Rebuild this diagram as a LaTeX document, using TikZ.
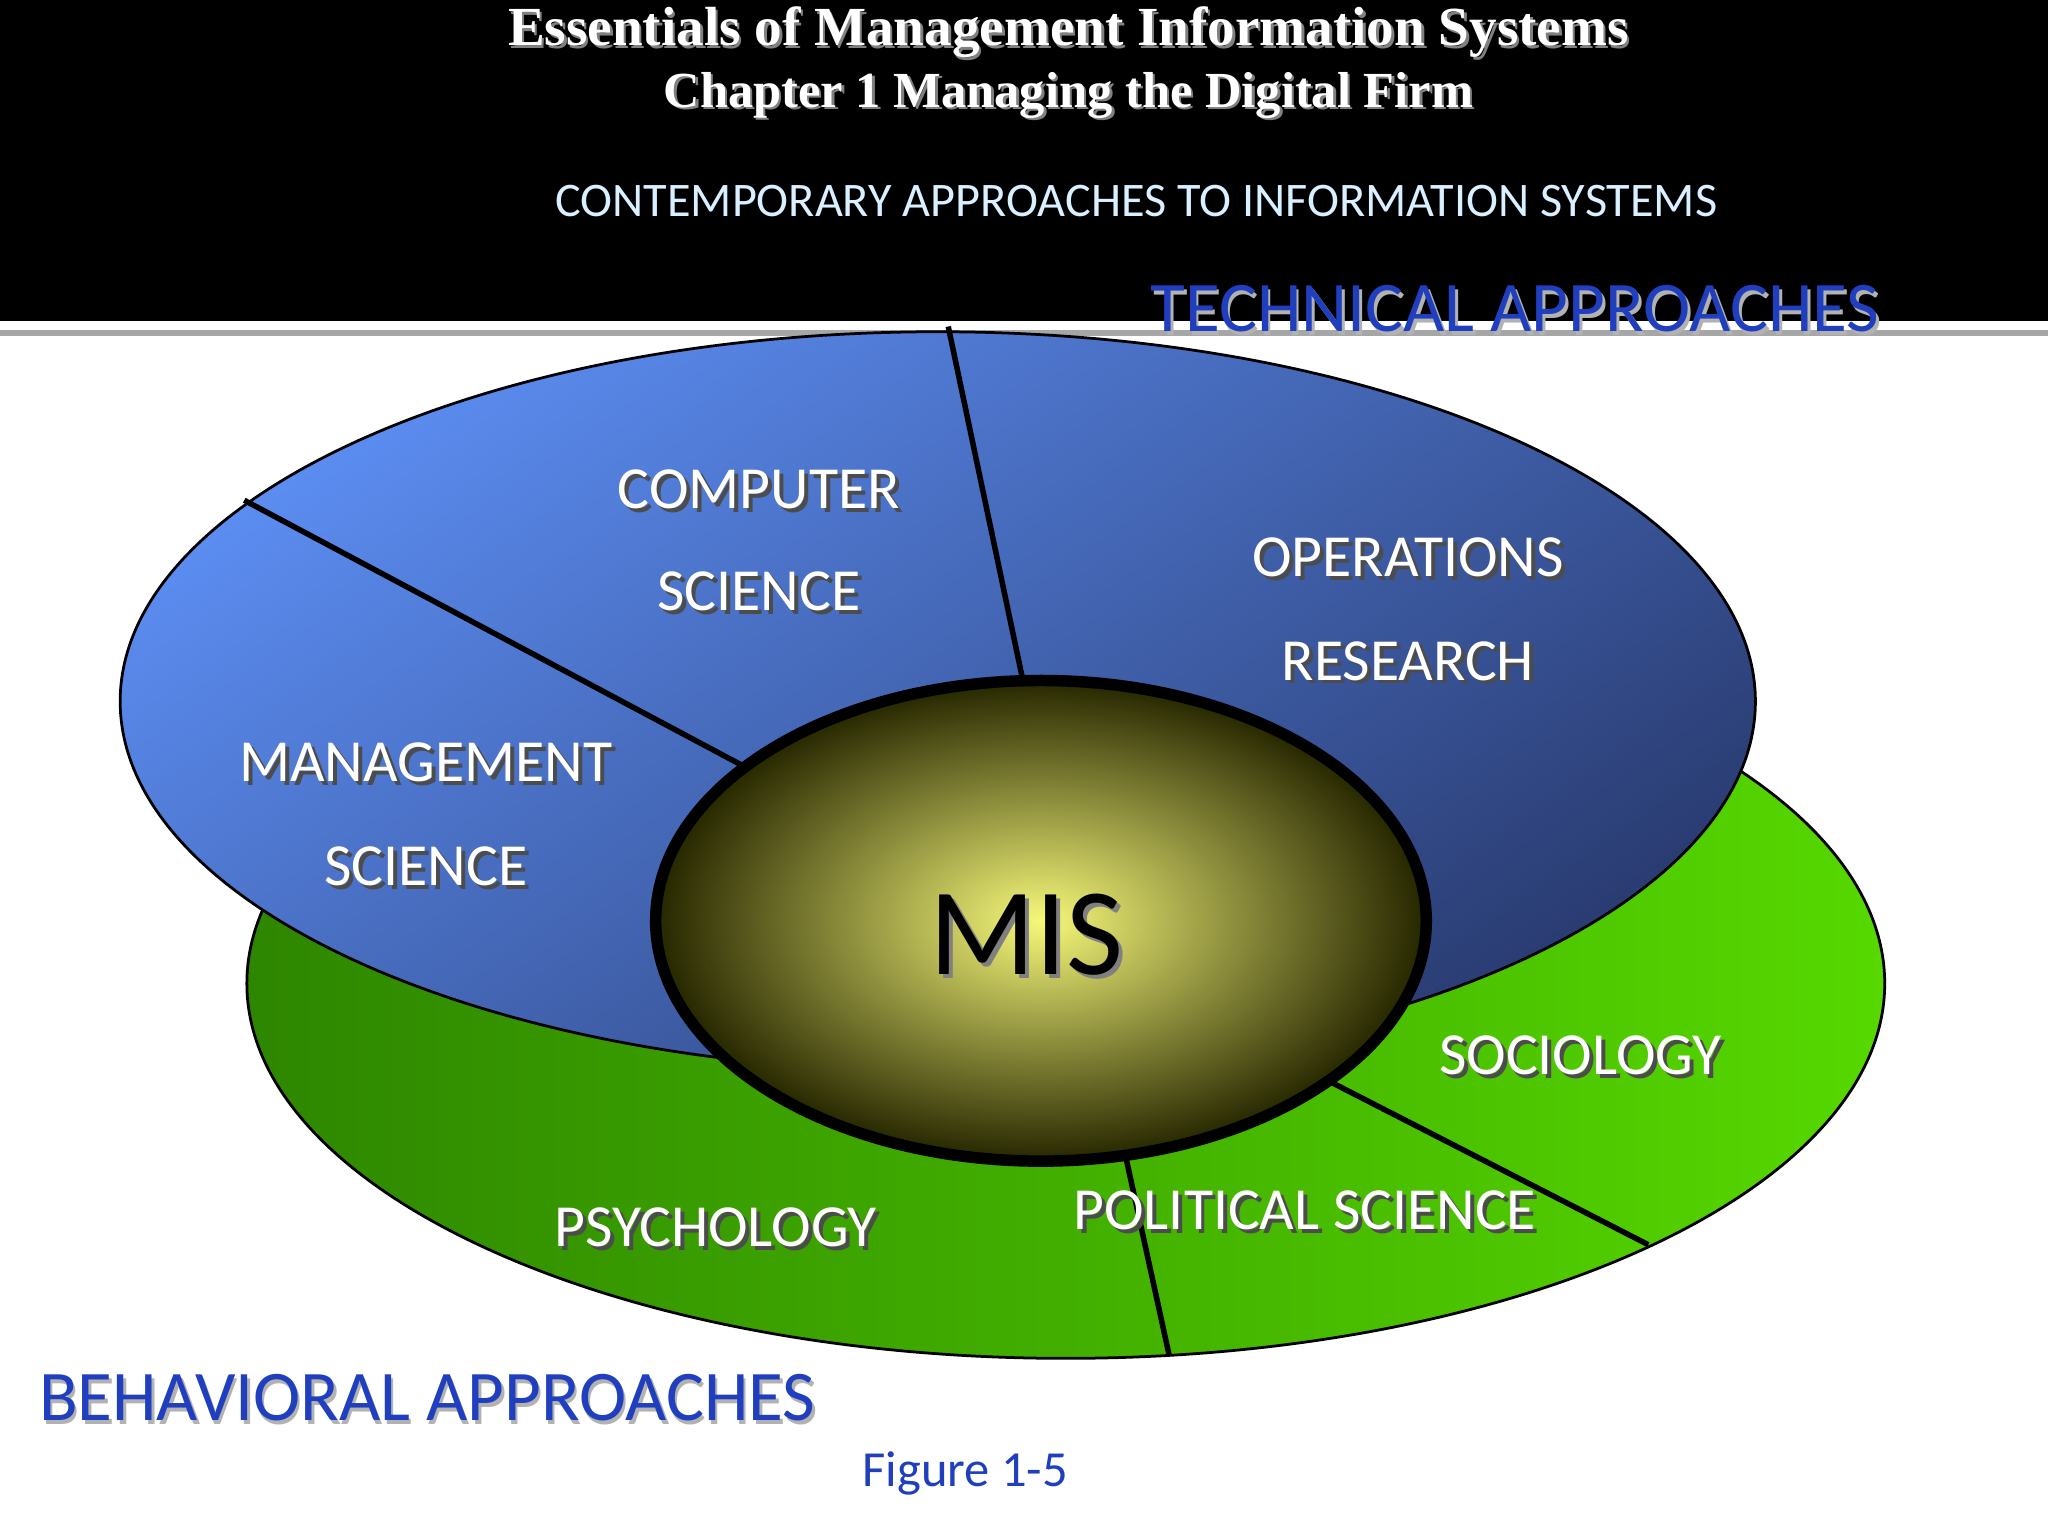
\documentclass[tikz,border=0pt]{standalone}
\usepackage{fontspec}
\setmainfont{Liberation Serif}
\newfontfamily\carl{Carlito}
\usetikzlibrary{calc}
\definecolor{bluelt}{HTML}{5B8CF0}
\definecolor{bluedk}{HTML}{2A3C72}
\definecolor{grndk}{HTML}{2E8600}
\definecolor{grnlt}{HTML}{56D800}
\definecolor{misc}{HTML}{F6F87A}
\definecolor{cyantext}{HTML}{D8F0FF}
\definecolor{apblue}{HTML}{1F3FBF}
\tikzset{
 lbl/.style={font=\carl\fontsize{13}{14}\selectfont, text=white, align=center},
 sh/.style={text=black!70},
 divider/.style={line width=1.2pt, black},
}
\newcommand{\shlabel}[3]{%
 \node[lbl,sh] at ($(#1)+(3,3)$) {#3};
 \node[lbl] (#2) at (#1) {#3};}
\begin{document}
\begin{tikzpicture}[x=0.01cm,y=-0.01cm]
\useasboundingbox (0,0) rectangle (1568,1176);
\fill[white] (0,0) rectangle (1568,1176);
% header
\fill[black] (0,0) rectangle (1568,246);
\draw[gray!70, line width=1.2pt] (0,255) -- (1568,255);
\node[text=gray, font=\fontsize{12}{13}\selectfont\bfseries] at (820,27) {Essentials of Management Information Systems};
\node[text=white, font=\fontsize{12}{13}\selectfont\bfseries] (t1) at (818,25) {Essentials of Management Information Systems};
\node[text=gray, font=\fontsize{11}{12}\selectfont\bfseries] at (820,75) {Chapter 1 Managing the Digital Firm};
\node[text=white, font=\fontsize{11}{12}\selectfont\bfseries] (t2) at (818,73) {Chapter 1 Managing the Digital Firm};
\node[text=cyantext, font=\carl\fontsize{10.5}{12}\selectfont] (t3) at (870,154) {CONTEMPORARY APPROACHES TO INFORMATION SYSTEMS};
% ellipses
\path[left color=grndk, right color=grnlt, draw=black, line width=0.6pt] (816,753) ellipse [x radius=627, y radius=287];
\coordinate (g1a) at (862,886); \coordinate (g1b) at (895,1037);
\coordinate (g2a) at (1018,828); \coordinate (g2b) at (1262,953);
\draw[divider] (g1a) -- (g1b);
\draw[divider] (g2a) -- (g2b);
\shade[top color=bluelt, bottom color=bluedk, shading angle=35] (718,537) ellipse [x radius=626, y radius=283];
\draw[black, line width=0.6pt] (718,537) ellipse [x radius=626, y radius=283];
\coordinate (b1a) at (187,383); \coordinate (b1b) at (572,588);
\coordinate (b2a) at (726,250); \coordinate (b2b) at (784,525);
\draw[divider] (b1a) -- (b1b);
\draw[divider] (b2a) -- (b2b);
\shade[inner color=misc, outer color=black!85!yellow] (797,705) ellipse [x radius=295, y radius=184];
\draw[black, line width=2.5pt] (797,705) ellipse [x radius=295, y radius=184];
\node[font=\carl\fontsize{27}{28}\selectfont, text=gray] at (789,719) {MIS};
\node[font=\carl\fontsize{27}{28}\selectfont] (mis) at (786,716) {MIS};
% labels
\shlabel{581,375}{cs1}{COMPUTER}
\shlabel{581,453}{cs2}{SCIENCE}
\shlabel{1078,427}{or1}{OPERATIONS}
\shlabel{1078,506}{or2}{RESEARCH}
\shlabel{326,584}{ms1}{MANAGEMENT}
\shlabel{326,663}{ms2}{SCIENCE}
\shlabel{1210,808}{soc}{SOCIOLOGY}
\shlabel{999,927}{pol}{POLITICAL SCIENCE}
\shlabel{548,940}{psy}{PSYCHOLOGY}
% approach titles
\node[font=\carl\fontsize{15.5}{16}\selectfont, text=gray!60] at (1162,239) {TECHNICAL APPROACHES};
\node[font=\carl\fontsize{15.5}{16}\selectfont, text=apblue] (tech) at (1160,236) {TECHNICAL APPROACHES};
\node[font=\carl\fontsize{15.5}{16}\selectfont, text=gray!60] at (329,1073) {BEHAVIORAL APPROACHES};
\node[font=\carl\fontsize{15.5}{16}\selectfont, text=apblue] (beh) at (327,1070) {BEHAVIORAL APPROACHES};
\node[font=\carl\fontsize{11}{12}\selectfont, text=apblue] (fig) at (739,1128) {Figure 1-5};
\end{tikzpicture}
\end{document}
